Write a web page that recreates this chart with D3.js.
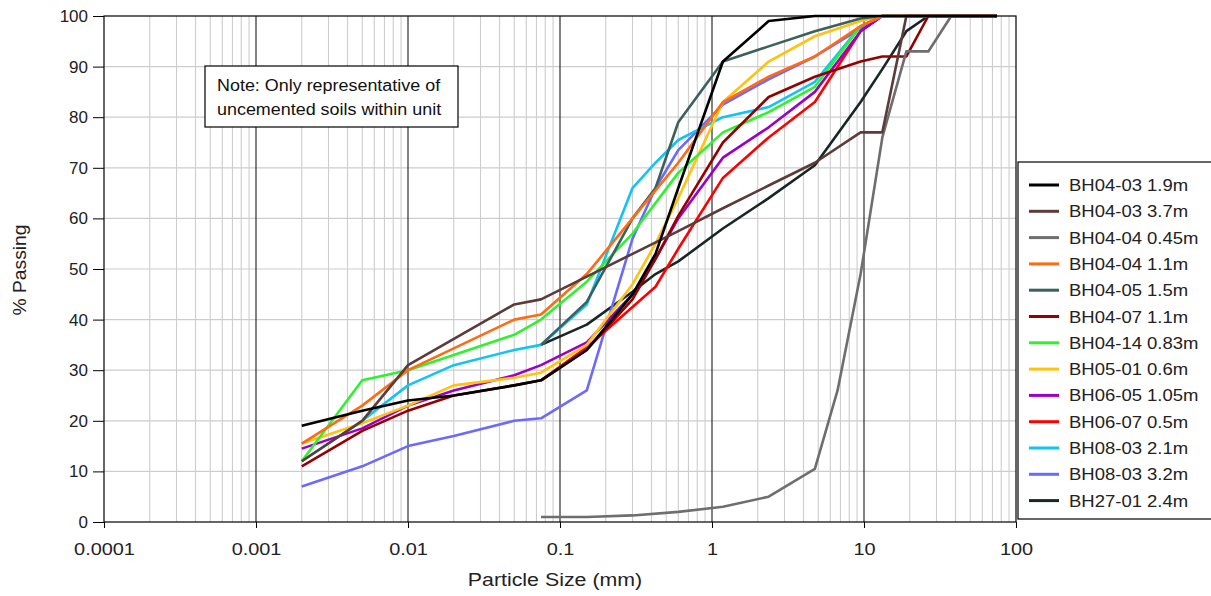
<!DOCTYPE html>
<html>
<head>
<meta charset="utf-8">
<script src="https://cdn.jsdelivr.net/npm/d3@7"></script>
<style>
  html, body { margin: 0; padding: 0; background: #ffffff; }
  svg { display: block; font-family: "Liberation Sans", Arial, sans-serif; }
</style>
</head>
<body>
<svg id="chart" width="1211" height="596"></svg>
<script>
// ---------- DATA ----------
const sizes = [0.002, 0.005, 0.01, 0.02, 0.05, 0.075, 0.15, 0.3, 0.425, 0.6, 1.18, 2.36, 4.75, 6.7, 9.5, 13.2, 19, 26.5, 37.5, 53, 75];

const seriesNames = [
  "BH04-03 1.9m", "BH04-03 3.7m", "BH04-04 0.45m", "BH04-04 1.1m", "BH04-05 1.5m",
  "BH04-07 1.1m", "BH04-14 0.83m", "BH05-01 0.6m", "BH06-05 1.05m", "BH06-07 0.5m",
  "BH08-03 2.1m", "BH08-03 3.2m", "BH27-01 2.4m"
];
const seriesColors = [
  "#000000", "#5c3b3b", "#6e6e6e", "#ff6a13", "#3a615d",
  "#960000", "#2ef22e", "#ffc20e", "#9a00cc", "#ff0000",
  "#12c3f5", "#6a6aff", "#182626"
];

const bh0403_19  = [19, 22, 24, 25, 27, 28, 34, 45, 53, 66, 91, 99, 100, null, 100, 100, 100, 100, 100, 100, 100];
const bh0403_37  = [12, 20, 31, null, 43, 44, 48.5, 53, null, 57.5, 62, 66.5, 71, null, 77, 77, 100, 100, 100, 100, 100];
const bh0404_045 = [null, null, null, null, null, 1, 1, 1.3, null, 2, 3, 5, 10.5, 26, 49, 76, 93, 93, 100, 100, 100];
const bh0404_11  = [15.5, 23, 30, null, 40, 41, 49, 60, null, 71, 83, 88, 92, null, 98, 100, 100, 100, 100, 100, 100];
const bh0405_15  = [null, null, null, null, null, 35, 43.5, 60, 66, 79, 91, 94, 97, null, 99.5, 100, 100, 100, 100, 100, 100];
const bh0407_11  = [11, 18, 22, 25, 27, 28, 34, 44, 52, 60.5, 75, 84, 88, null, 91, 92, 92, 100, 100, 100, 100];
const bh0414_083 = [12, 28, 30, 33, 37, 40, 47.5, 57, null, 69, 77, 81, 86, null, 98, 100, 100, 100, 100, 100, 100];
const bh0501_06  = [15.5, 19.5, 23, 27, 28.5, 29.5, 35, 47, 55, 64, 83, 91, 96, null, 99, 100, 100, 100, 100, 100, 100];
const bh0605_105 = [14.5, 18.5, 23, 26, 29, 31, 35.5, 45, 52, 60, 72, 78, 85, null, 97, 100, 100, 100, 100, 100, 100];
const bh0607_05  = [null, null, null, null, null, 28, 34.5, 42.5, 46.5, 54, 68, 76, 83, null, 97, 100, 100, 100, 100, 100, 100];
const bh0803_21  = [12, 20, 27, 31, 34, 35, 43, 66, 71, 75.5, 80, 82, 87, null, 98, 100, 100, 100, 100, 100, 100];
const bh0803_32  = [7, 11, 15, 17, 20, 20.5, 26, 56, 66, 73.5, 82.5, 87.5, 92, null, 97.5, 100, 100, 100, 100, 100, 100];
const bh2701_24  = [null, null, null, null, null, 35, 39, 45.5, 49, 51.5, 58, 64, 70.5, null, 83, 89.5, 97, 100, 100, 100, 100];

const seriesValues = [bh0403_19, bh0403_37, bh0404_045, bh0404_11, bh0405_15, bh0407_11, bh0414_083,
                      bh0501_06, bh0605_105, bh0607_05, bh0803_21, bh0803_32, bh2701_24];

const xTickValues = [0.0001, 0.001, 0.01, 0.1, 1, 10, 100];
const xTickLabels = ["0.0001", "0.001", "0.01", "0.1", "1", "10", "100"];
const yTickValues = [0, 10, 20, 30, 40, 50, 60, 70, 80, 90, 100];

const xTitle = "Particle Size (mm)";
const yTitle = "% Passing";
const noteLines = ["Note: Only representative of", "uncemented soils within unit"];

// ---------- CHART ----------
const svg = d3.select("#chart");
const L = 104, R = 1016, T = 16, B = 522;

const x = d3.scaleLog().domain([0.0001, 100]).range([L, R]);
const y = d3.scaleLinear().domain([0, 100]).range([B, T]);

// widen text horizontally (reference glyphs are wider than Arial metrics)
function stretch(sel, f) {
  sel.each(function () {
    const w = this.getComputedTextLength();
    d3.select(this).attr("textLength", w * f).attr("lengthAdjust", "spacingAndGlyphs");
  });
}

// grid: minor vertical
const allX = x.ticks();
const isMajor = v => Math.abs(Math.log10(v) - Math.round(Math.log10(v))) < 1e-9;
svg.append("g").selectAll("line").data(allX.filter(v => !isMajor(v))).join("line")
  .attr("x1", d => x(d)).attr("x2", d => x(d)).attr("y1", T).attr("y2", B)
  .attr("stroke", "#cdcdcd").attr("stroke-width", 1.1);
// horizontal grid
svg.append("g").selectAll("line").data(yTickValues.filter(v => v > 0 && v < 100)).join("line")
  .attr("x1", L).attr("x2", R).attr("y1", d => y(d)).attr("y2", d => y(d))
  .attr("stroke", "#cdcdcd").attr("stroke-width", 1.2);
// major vertical
svg.append("g").selectAll("line").data(allX.filter(v => isMajor(v) && v > 0.0001 && v < 100)).join("line")
  .attr("x1", d => x(d)).attr("x2", d => x(d)).attr("y1", T).attr("y2", B)
  .attr("stroke", "#1a1a1a").attr("stroke-width", 1.1);

// series lines (drawn in reverse so first legend item sits on top)
const line = d3.line().x(d => x(d[0])).y(d => y(d[1]));
const order = d3.range(seriesNames.length).reverse();
svg.append("g").selectAll("path").data(order).join("path")
  .attr("d", i => line(sizes.map((s, k) => [s, seriesValues[i][k]]).filter(p => p[1] !== null)))
  .attr("fill", "none")
  .attr("stroke", i => seriesColors[i])
  .attr("stroke-width", 2.6)
  .attr("stroke-linejoin", "round");

// frame
svg.append("rect").attr("x", L).attr("y", T).attr("width", R - L).attr("height", B - T)
  .attr("fill", "none").attr("stroke", "#000").attr("stroke-width", 1.2);

// axes
const yAxis = d3.axisLeft(y).tickValues(yTickValues).tickSize(11).tickSizeOuter(0).tickPadding(5);
const gy = svg.append("g").attr("transform", `translate(${L},0)`).call(yAxis);
gy.select(".domain").remove();
gy.selectAll("line").attr("stroke", "#000");
gy.selectAll("text").attr("font-size", 17).attr("fill", "#222").attr("font-family", "Liberation Sans, Arial, sans-serif");

const xAxis = d3.axisBottom(x).tickValues(xTickValues).tickFormat((d, i) => xTickLabels[i]).tickSize(6).tickSizeOuter(0).tickPadding(15);
const gx = svg.append("g").attr("transform", `translate(0,${B})`).call(xAxis);
gx.select(".domain").remove();
gx.selectAll("line").attr("stroke", "#000");
gx.selectAll("text").attr("font-size", 17).attr("fill", "#222").attr("font-family", "Liberation Sans, Arial, sans-serif");
stretch(gx.selectAll("text"), 1.17);

// titles
const xt = svg.append("text").attr("x", 555).attr("y", 586).attr("text-anchor", "middle")
  .attr("font-size", 17.5).attr("fill", "#222").text(xTitle);
stretch(xt, 1.22);
const yt = svg.append("text").attr("transform", "translate(26,270) rotate(-90)").attr("text-anchor", "middle")
  .attr("font-size", 17.5).attr("fill", "#222").text(yTitle);
stretch(yt, 1.1);

// note box
svg.append("rect").attr("x", 205).attr("y", 66).attr("width", 253).attr("height", 61)
  .attr("fill", "#fff").attr("stroke", "#000").attr("stroke-width", 1.2);
const nt = svg.append("g").selectAll("text").data(noteLines).join("text")
  .attr("x", 217).attr("y", (d, i) => 91 + i * 24)
  .attr("font-size", 16).attr("fill", "#111").text(d => d);
stretch(nt, 1.12);

// legend
const lg = svg.append("g");
lg.append("rect").attr("x", 1018).attr("y", 162).attr("width", 200).attr("height", 357)
  .attr("fill", "#fff").attr("stroke", "#000").attr("stroke-width", 1.2);
const rows = lg.selectAll("g.row").data(seriesNames).join("g").attr("class", "row")
  .attr("transform", (d, i) => `translate(0,${185 + i * 26.3})`);
rows.append("line").attr("x1", 1029).attr("x2", 1059).attr("y1", 0).attr("y2", 0)
  .attr("stroke", (d, i) => seriesColors[i]).attr("stroke-width", 3);
const lt = rows.append("text").attr("x", 1069).attr("y", 6).attr("font-size", 16.5).attr("fill", "#222").text(d => d);
stretch(lt, 1.12);
</script>
</body>
</html>
